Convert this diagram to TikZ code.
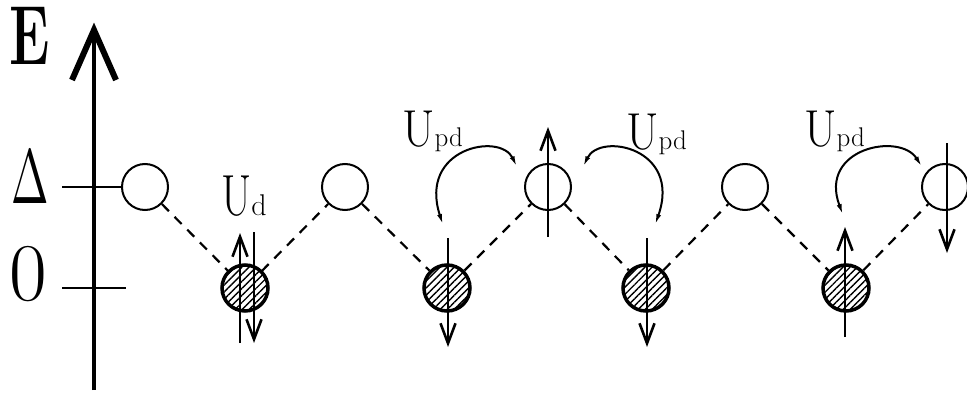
\documentclass[tikz,border=0pt]{standalone}
\usetikzlibrary{arrows.meta,patterns.meta}
\begin{document}
\begin{tikzpicture}[x=1pt,y=-1pt,
  site/.style={circle,draw,line width=2pt,minimum size=46pt,inner sep=0pt},
  occ/.style={site,line width=3.5pt,
    pattern={Lines[angle=45,distance=5pt,line width=1.4pt]}},
  bond/.style={dash pattern=on 10pt off 8pt,line width=2.2pt},
  levtick/.style={line width=2pt},
  spin/.style={line width=2pt,
    -{Straight Barb[length=20pt,width=15pt,line width=2.6pt]}},
  hop/.style={line width=2pt,
    {Latex[length=11pt,width=5pt]}-{Latex[length=11pt,width=5pt]}},
  lbl/.style={inner sep=0pt,anchor=base west}
]
\useasboundingbox (0,0) rectangle (967,396);

% energy axis
\coordinate (ax0) at (94,390);
\coordinate (ax1) at (94,30);
\draw[line width=4pt] (ax0) -- (ax1);
\draw[line width=6pt,line join=miter] (72,80) -- (ax1) -- (116,80);

% axis labels
\node[lbl] (lE) at (9,65) {\fontsize{84}{84}\selectfont\bfseries\scalebox{0.65}[1]{E}};
\node[lbl] (lD) at (11,203) {\scalebox{4.5}[7.7]{$\Delta$}};
\node[lbl] (lZ) at (9,300) {\fontsize{82}{82}\selectfont 0};

% empty p sites (upper level) and occupied d sites (lower level)
\node[site] (o1) at (145,187) {};
\node[site] (o2) at (345,187) {};
\node[site] (o3) at (548,187) {};
\node[site] (o4) at (745,187) {};
\node[site] (o5) at (945,187) {};
\node[occ] (f1) at (245,288) {};
\node[occ] (f2) at (447,288) {};
\node[occ] (f3) at (646,288) {};
\node[occ] (f4) at (846,288) {};

% level ticks
\coordinate (tD) at (62,187);
\coordinate (tZa) at (62,288);
\coordinate (tZb) at (126,288);
\draw[levtick] (tD) -- (o1.west);
\draw[levtick] (tZa) -- (tZb);

% hopping paths
\draw[bond] (o1) -- (f1);
\draw[bond] (f1) -- (o2);
\draw[bond] (o2) -- (f2);
\draw[bond] (f2) -- (o3);
\draw[bond] (o3) -- (f3);
\draw[bond] (f3) -- (o4);
\draw[bond] (o4) -- (f4);
\draw[bond] (f4) -- (o5);

% spins
\coordinate (s1a) at (240,343); \coordinate (s1b) at (240,233);
\coordinate (s2a) at (254,232); \coordinate (s2b) at (254,343);
\coordinate (s3a) at (448,238); \coordinate (s3b) at (448,347);
\coordinate (s4a) at (548,237); \coordinate (s4b) at (548,127);
\coordinate (s5a) at (647,238); \coordinate (s5b) at (647,347);
\coordinate (s6a) at (845,337); \coordinate (s6b) at (845,227);
\coordinate (s7a) at (947,143); \coordinate (s7b) at (947,253);
\draw[spin] (s1a) -- (s1b);
\draw[spin] (s2a) -- (s2b);
\draw[spin] (s3a) -- (s3b);
\draw[spin] (s4a) -- (s4b);
\draw[spin] (s5a) -- (s5b);
\draw[spin] (s6a) -- (s6b);
\draw[spin] (s7a) -- (s7b);

% Upd exchange arcs
\coordinate (h1a) at (517,167); \coordinate (h1b) at (443,225);
\coordinate (h2a) at (583,167); \coordinate (h2b) at (655,225);
\coordinate (h3a) at (843,215); \coordinate (h3b) at (922,167);
\draw[hop] (h1a) .. controls (500,132) and (418,148) .. (h1b);
\draw[hop] (h2a) .. controls (600,132) and (682,148) .. (h2b);
\draw[hop] (h3a) .. controls (818,148) and (900,132) .. (h3b);

% interaction labels
\node[lbl] (lUd) at (221,215) {\fontsize{58}{58}\selectfont\scalebox{0.75}[1]{U}\fontsize{30}{30}\selectfont d};
\node[lbl] (lU1) at (402,146) {\fontsize{52}{52}\selectfont\scalebox{0.9}[1]{U}\fontsize{27}{27}\selectfont\raisebox{-1pt}{pd}};
\node[lbl] (lU2) at (626,149) {\fontsize{52}{52}\selectfont\scalebox{0.9}[1]{U}\fontsize{27}{27}\selectfont\raisebox{-1pt}{pd}};
\node[lbl] (lU3) at (804,146) {\fontsize{52}{52}\selectfont\scalebox{0.9}[1]{U}\fontsize{27}{27}\selectfont\raisebox{-1pt}{pd}};
\end{tikzpicture}
\end{document}
